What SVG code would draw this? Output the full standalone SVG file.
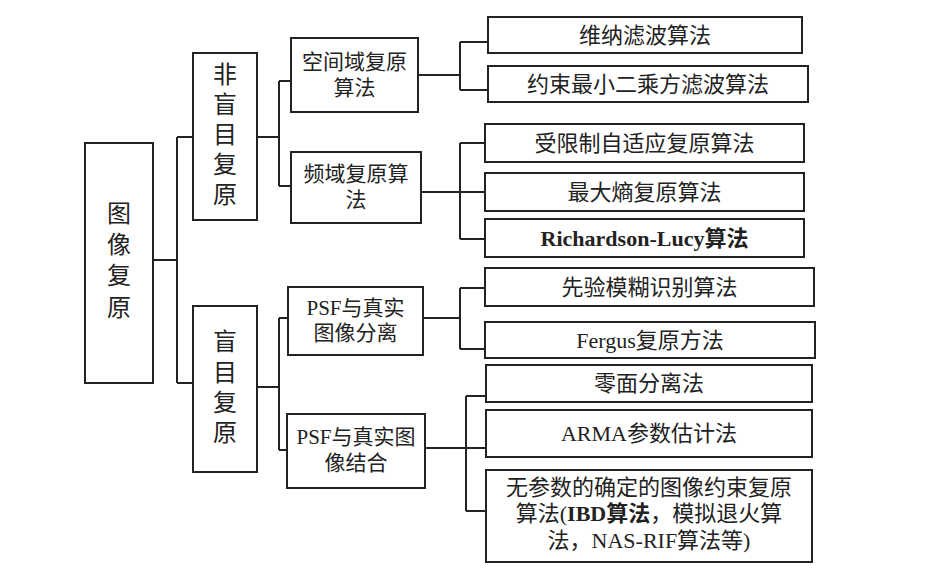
<svg xmlns="http://www.w3.org/2000/svg" width="941" height="577" viewBox="0 0 941 577">
<style>
rect{fill:#fff;stroke:#222;stroke-width:2}
#connectors path{fill:none;stroke:#222;stroke-width:2}
text{font-family:"Liberation Serif","Noto Sans CJK SC",serif;fill:#222;text-anchor:middle;dominant-baseline:central}
.v{font-size:24px}
.m{font-size:21px}
.c{font-size:22px}
.b{font-weight:bold}
</style>
<rect x="0" y="0" width="941" height="577" style="stroke:none"/>
<g id="connectors">
<path d="M153,260H177M177,137V383M177,137H193M177,383H193"/>
<path d="M257,137H279M279,81V186M279,81H291M279,186H291"/>
<path d="M257,387H279M279,318V450M279,318H288M279,450H287"/>
<path d="M418,75H460M460,42V90M460,42H488M460,90H488"/>
<path d="M421,192H485M460,143V239M460,143H485M460,239H485"/>
<path d="M423,318H460M460,288V349M460,288H485M460,349H485"/>
<path d="M425,448H486M466,396V511M466,396H486M466,511H486"/>
</g>
<g id="root"><rect x="85" y="143" width="68" height="240"/>
<text class="v" x="119" y="214">图</text><text class="v" x="119" y="245">像</text><text class="v" x="119" y="276">复</text><text class="v" x="119" y="308">原</text></g>
<g id="nonblind"><rect x="193" y="53" width="64" height="167"/>
<text class="v" x="225" y="75">非</text><text class="v" x="225" y="105">盲</text><text class="v" x="225" y="135">目</text><text class="v" x="225" y="165">复</text><text class="v" x="225" y="195">原</text></g>
<g id="blind"><rect x="193" y="306" width="64" height="166"/>
<text class="v" x="225" y="342">盲</text><text class="v" x="225" y="373">目</text><text class="v" x="225" y="403">复</text><text class="v" x="225" y="433">原</text></g>
<g id="spatial"><rect x="291" y="38" width="127" height="74"/>
<text class="m" x="354.5" y="62">空间域复原</text><text class="m" x="354.5" y="88">算法</text></g>
<g id="freq"><rect x="291" y="152" width="130" height="71"/>
<text class="m" x="356" y="174">频域复原算</text><text class="m" x="356" y="200">法</text></g>
<g id="separate"><rect x="288" y="287" width="135" height="68"/>
<text class="m" x="355.5" y="308">PSF与真实</text><text class="m" x="355.5" y="333">图像分离</text></g>
<g id="combine"><rect x="287" y="414" width="138" height="74"/>
<text class="m" x="356" y="437">PSF与真实图</text><text class="m" x="356" y="463">像结合</text></g>
<g id="wiener"><rect x="488" y="17" width="314" height="36"/><text class="c" x="645" y="35">维纳滤波算法</text></g>
<g id="cls"><rect x="488" y="66" width="320" height="36"/><text class="c" x="648" y="84">约束最小二乘方滤波算法</text></g>
<g id="constrained"><rect x="485" y="124" width="319" height="38"/><text class="c" x="644.5" y="143">受限制自适应复原算法</text></g>
<g id="maxent"><rect x="485" y="173" width="319" height="38"/><text class="c" x="644.5" y="192">最大熵复原算法</text></g>
<g id="rl"><rect x="485" y="219" width="319" height="38"/><text class="c b" x="644.5" y="238">Richardson-Lucy算法</text></g>
<g id="prior"><rect x="485" y="268" width="329" height="38"/><text class="c" x="649.5" y="287">先验模糊识别算法</text></g>
<g id="fergus"><rect x="485" y="322" width="330" height="36"/><text class="c" x="650" y="340">Fergus复原方法</text></g>
<g id="zero"><rect x="486" y="365" width="326" height="37"/><text class="c" x="649" y="383">零面分离法</text></g>
<g id="arma"><rect x="486" y="410" width="326" height="47"/><text class="c" x="649" y="433">ARMA参数估计法</text></g>
<g id="nonparam"><rect x="486" y="470" width="326" height="92"/>
<text class="c" x="649" y="487">无参数的确定的图像约束复原</text>
<text class="c" x="649" y="513">算法(<tspan class="b">IBD算法</tspan>，模拟退火算</text>
<text class="c" x="649" y="540">法，NAS-RIF算法等)</text></g>
</svg>
